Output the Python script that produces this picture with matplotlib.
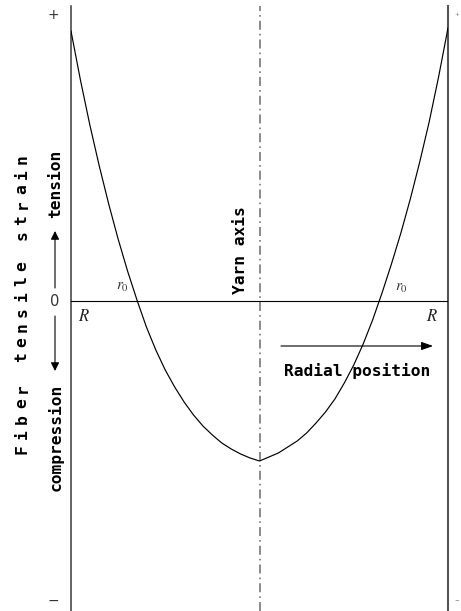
import matplotlib
matplotlib.use("Agg")
import matplotlib.pyplot as plt
from matplotlib.patches import FancyArrowPatch

# radial position (normalised, -R .. R) and fibre tensile strain (arbitrary units)
radius = [-1.0, -0.95, -0.9, -0.85, -0.8, -0.75, -0.7, -0.65, -0.6, -0.55, -0.5,
          -0.45, -0.4, -0.35, -0.3, -0.25, -0.2, -0.15, -0.1, -0.05, 0.0,
          0.05, 0.1, 0.15, 0.2, 0.25, 0.3, 0.35, 0.4, 0.45, 0.5,
          0.55, 0.6, 0.65, 0.7, 0.75, 0.8, 0.85, 0.9, 0.95, 1.0]
strain = [2.70, 2.21, 1.76, 1.35, 0.97, 0.62, 0.30, 0.01, -0.26, -0.49, -0.69,
          -0.86, -1.01, -1.14, -1.25, -1.34, -1.42, -1.48, -1.53, -1.57, -1.60,
          -1.56, -1.52, -1.46, -1.40, -1.32, -1.22, -1.11, -0.98, -0.82, -0.64,
          -0.43, -0.19, 0.08, 0.37, 0.68, 1.02, 1.39, 1.79, 2.24, 2.73]

W, H = 461, 611
MONO = "DejaVu Sans Mono"


def fp(x, y):
    # pixel position (from top-left) -> figure fraction
    return x / W, 1 - y / H


plt.rcParams["lines.scale_dashes"] = False
plt.rcParams["mathtext.fontset"] = "stix"

fig = plt.figure(figsize=(W / 100, H / 100), dpi=100)
ax = fig.add_axes([71 / W, 0, 377 / W, 1])
ax.set_xlim(-1, 1)
ax.set_ylim(-3.10, 3.01)
ax.axis("off")

# frame: outer radius lines, zero line, yarn axis
ax.plot([-1, -1], [-3.10, 2.95], color="#3a3a3a", lw=1.1, clip_on=False)
ax.plot([1, 1], [-3.10, 2.95], color="#555555", lw=1.5, clip_on=False)
ax.plot([-1, 1], [0, 0], color="black", lw=0.8)
ax.plot([0, 0], [-3.10, 2.95], color="#777777", lw=1.2,
        dashes=(6.5, 2.9, 1.2, 2.9))

# strain profile
ax.plot(radius, strain, color="black", lw=0.85)

# scale marks
fig.text(*fp(53, 15), "+", fontsize=10, color="#333333", ha="center", va="center")
fig.text(*fp(55, 301), "0", fontsize=10.5, color="#333333", ha="center", va="center")
fig.text(*fp(53, 601), "\u2212", fontsize=10, color="#333333", ha="center", va="center")
fig.text(*fp(457, 15), "+", fontsize=4, color="#777777", ha="center", va="center")
fig.text(*fp(457, 600), "\u2212", fontsize=4, color="#777777", ha="center", va="center")

# axis title, letter-spaced
title = "Fiber tensile strain"
step = 15.3
y0 = 304 + step * (len(title) - 1) / 2
for i, ch in enumerate(title):
    fig.text(*fp(22, y0 - i * step), ch, fontsize=11.7, family=MONO, weight="bold",
             rotation=90, ha="center", va="center")

fig.text(*fp(56, 184), "tension", fontsize=11.7, family=MONO, weight="bold",
         rotation=90, ha="center", va="center")
fig.text(*fp(56, 437), "compression", fontsize=11.7, family=MONO, weight="bold",
         rotation=90, ha="center", va="center")

arrow_v = dict(arrowstyle="-|>,head_length=0.5,head_width=0.25",
               mutation_scale=10, color="black", lw=0.8, shrinkA=0, shrinkB=0)
fig.add_artist(FancyArrowPatch(fp(55, 288), fp(55, 231),
                               transform=fig.transFigure, **arrow_v))
fig.add_artist(FancyArrowPatch(fp(55, 316), fp(55, 371),
                               transform=fig.transFigure, **arrow_v))

# yarn axis and radial direction
fig.text(*fp(240, 250), "Yarn axis", fontsize=11.7, family=MONO, weight="bold",
         rotation=90, ha="center", va="center")
fig.text(*fp(357, 371), "Radial position", fontsize=11.7, family=MONO,
         weight="bold", ha="center", va="center")
fig.add_artist(FancyArrowPatch(
    fp(281, 346), fp(433, 346), transform=fig.transFigure,
    arrowstyle="-|>,head_length=0.7,head_width=0.25", mutation_scale=10,
    color="black", lw=0.8, shrinkA=0, shrinkB=0))

# r0 and R markers
fig.text(*fp(122, 287), r"$r_{\mathit{0}}$", fontsize=11, color="#333333",
         ha="center", va="center")
fig.text(*fp(401, 288), r"$r_{\mathit{0}}$", fontsize=11, color="#333333",
         ha="center", va="center")
fig.text(*fp(84, 316), r"$R$", fontsize=12, color="#222222", ha="center", va="center")
fig.text(*fp(432, 316), r"$R$", fontsize=12, color="#222222", ha="center", va="center")

fig.savefig("out.png", dpi=100)
